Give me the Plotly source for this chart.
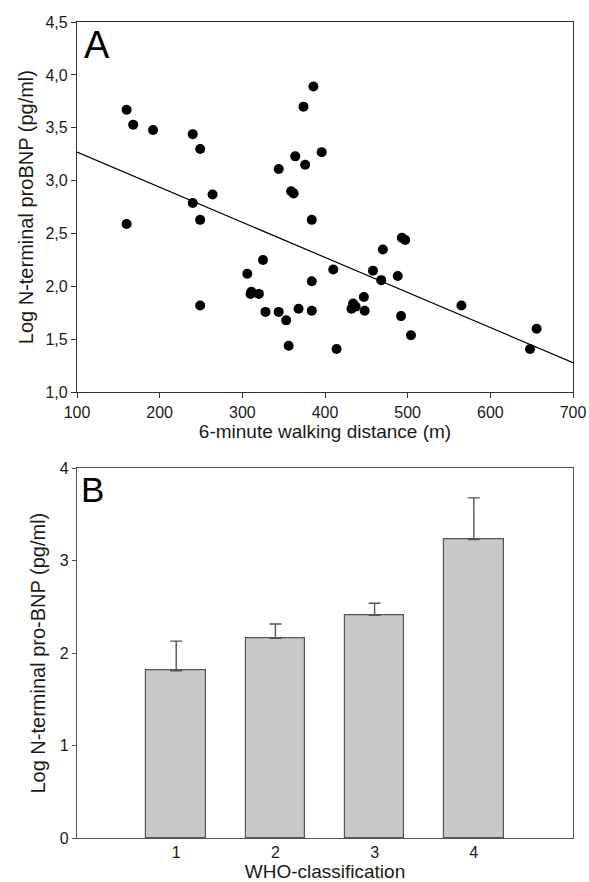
import plotly.graph_objects as go

# ---- Panel A data: 6-minute walking distance vs log NT-proBNP ----
walk_m = [160, 168, 192, 240, 249, 264, 240, 160, 249, 249,
          306, 325, 311, 310, 320, 328, 344, 353, 356, 368,
          384, 384, 384, 344, 359, 362, 364, 376, 374, 386,
          396, 410, 414, 434, 432, 437, 447, 448, 458, 468,
          470, 488, 493, 497, 492, 504, 565, 648, 656]
log_ntprobnp = [3.67, 3.53, 3.48, 3.44, 3.30, 2.87, 2.79, 2.59, 2.63, 1.82,
                2.12, 2.25, 1.95, 1.93, 1.93, 1.76, 1.76, 1.68, 1.44, 1.79,
                2.63, 2.05, 1.77, 3.11, 2.90, 2.88, 3.23, 3.15, 3.70, 3.89,
                3.27, 2.16, 1.41, 1.84, 1.79, 1.81, 1.90, 1.77, 2.15, 2.06,
                2.35, 2.10, 2.46, 2.44, 1.72, 1.54, 1.82, 1.41, 1.60]
fit_x = [100, 700]
fit_y = [3.27, 1.28]

# ---- Panel B data: WHO classification ----
who_class = [1, 2, 3, 4]
who_mean = [1.81, 2.16, 2.41, 3.23]
who_err = [0.32, 0.155, 0.13, 0.45]

FONT = "Liberation Sans, Arial, sans-serif"
TXT = "#1a1a1a"
GREY = "#555555"

fig = go.Figure()

fig.add_trace(go.Scatter(
    x=walk_m, y=log_ntprobnp, mode="markers",
    marker=dict(color="black", size=10, line=dict(width=0)),
    xaxis="x", yaxis="y", showlegend=False))
fig.add_trace(go.Scatter(
    x=fit_x, y=fit_y, mode="lines",
    line=dict(color="black", width=1.2),
    xaxis="x", yaxis="y", showlegend=False))

fig.add_trace(go.Bar(
    x=who_class, y=who_mean, width=0.6,
    marker=dict(color="#c8c8c8", line=dict(color=GREY, width=1.2)),
    error_y=dict(type="data", symmetric=False, array=who_err,
                 arrayminus=[0] * len(who_err),
                 color=GREY, thickness=1.4, width=6),
    xaxis="x2", yaxis="y2", showlegend=False))

axis_common = dict(showline=True, mirror=True, linecolor="#333333", linewidth=1.3,
                   showgrid=False, zeroline=False, automargin=False,
                   tickfont=dict(family=FONT, size=16, color=TXT),
                   ticklen=5, tickcolor="#333333", tickwidth=1.2)

fig.update_layout(
    template="none",
    width=589, height=882,
    paper_bgcolor="white", plot_bgcolor="white",
    separators=",.",
    margin=dict(l=77, r=16, t=22, b=44, pad=0),
    font=dict(family=FONT, color=TXT),
    bargap=0,
    xaxis=dict(axis_common, domain=[0, 1], anchor="y", range=[100, 700],
               tickvals=[100, 200, 300, 400, 500, 600, 700], ticks="outside",
               title=dict(text="6-minute walking distance (m)",
                          font=dict(family=FONT, size=19, color=TXT), standoff=4)),
    yaxis=dict(axis_common, domain=[0.5462, 1], anchor="x", range=[1.0, 4.5],
               dtick=0.5, tickformat=".1f", ticks="outside",
               title=dict(text="Log N-terminal proBNP (pg/ml)",
                          font=dict(family=FONT, size=20, color=TXT), standoff=6)),
    xaxis2=dict(axis_common, domain=[0, 1], anchor="y2", range=[0, 5],
                tickvals=who_class, ticks="", linecolor=GREY,
                title=dict(text="WHO-classification",
                           font=dict(family=FONT, size=19, color=TXT), standoff=2)),
    yaxis2=dict(axis_common, domain=[0, 0.4531], anchor="x2", range=[0, 4],
                dtick=1, ticks="outside", linecolor=GREY, tickcolor=GREY, ticklen=4,
                title=dict(text="Log N-terminal pro-BNP (pg/ml)",
                           font=dict(family=FONT, size=20, color=TXT), standoff=8)),
    annotations=[
        dict(text="A", xref="x domain", yref="y domain", x=0.01, y=1.0,
             xanchor="left", yanchor="top", showarrow=False,
             font=dict(family=FONT, size=38, color="black")),
        dict(text="B", xref="x2 domain", yref="y2 domain", x=0.005, y=1.0,
             xanchor="left", yanchor="top", showarrow=False,
             font=dict(family=FONT, size=35, color="black")),
    ],
)

# remove the default body margin so the figure sits at the window's top-left corner
fig.write_html("out.html", config={"displayModeBar": False},
               post_script="document.body.style.margin='0px';")
